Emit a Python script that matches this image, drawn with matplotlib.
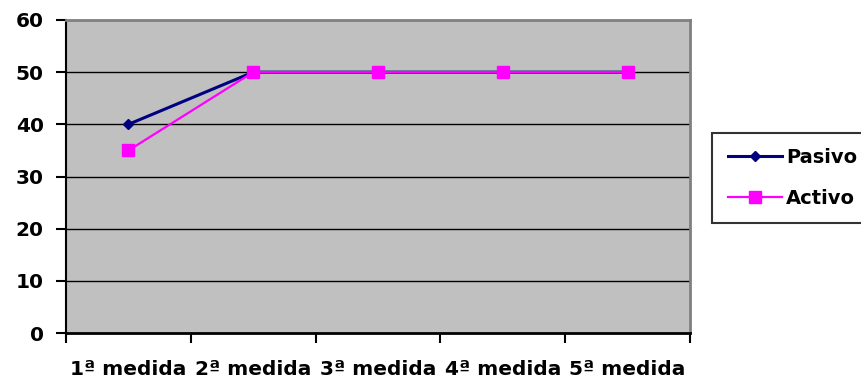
import matplotlib
matplotlib.use("Agg")
import matplotlib.pyplot as plt
from matplotlib.ticker import FixedLocator, NullFormatter, FixedFormatter

categories = ["1ª medida", "2ª medida", "3ª medida", "4ª medida", "5ª medida"]
pasivo = [40, 50, 50, 50, 50]
activo = [35, 50, 50, 50, 50]
y_ticks = [0, 10, 20, 30, 40, 50, 60]

plt.rcParams["font.family"] = ["DejaVu Sans"]

fig = plt.figure(figsize=(8.61, 3.91), dpi=100)
ax = fig.add_axes([0.0767, 0.148, 0.7247, 0.801])
ax.set_facecolor("#C0C0C0")

x = list(range(1, len(categories) + 1))
ax.plot(x, pasivo, color="#000080", marker="D", markersize=5, lw=2.2, label="Pasivo", zorder=3)
ax.plot(x, activo, color="#FF00FF", marker="s", markersize=8, lw=1.6, label="Activo", zorder=4)

ax.set_xlim(0.5, len(categories) + 0.5)
ax.set_ylim(0, 60)
ax.yaxis.set_major_locator(FixedLocator(y_ticks))
for v in y_ticks[1:-1]:
    ax.axhline(v, color="black", lw=1.0, zorder=1)

# category boundaries carry the tick marks, labels sit at the centers
bounds = [i + 0.5 for i in range(len(categories) + 1)]
ax.xaxis.set_major_locator(FixedLocator(bounds))
ax.xaxis.set_major_formatter(NullFormatter())
ax.xaxis.set_minor_locator(FixedLocator(x))
ax.xaxis.set_minor_formatter(FixedFormatter(categories))
ax.tick_params(axis="x", which="major", direction="out", length=7, width=1.5)
ax.tick_params(axis="x", which="minor", length=0, pad=19, labelsize=14.5)
ax.tick_params(axis="y", direction="out", length=7, width=1.5, labelsize=14.5, pad=9)
for lab in ax.get_xticklabels(minor=True) + ax.get_yticklabels():
    lab.set_fontweight("bold")

for side in ["top", "right"]:
    ax.spines[side].set_color("#808080")
    ax.spines[side].set_linewidth(2)
ax.spines["left"].set_color("black")
ax.spines["left"].set_linewidth(1.5)
ax.spines["bottom"].set_color("black")
ax.spines["bottom"].set_linewidth(2)

leg = fig.legend(loc="center left", bbox_to_anchor=(0.827, 0.545), frameon=True,
                 fancybox=False, edgecolor="black", prop={"weight": "bold", "size": 14},
                 handlelength=2.8, handletextpad=0.2, labelspacing=1.1, borderpad=0.8,
                 borderaxespad=0)
leg.get_frame().set_linewidth(1.5)

fig.savefig("out.png", dpi=100)
